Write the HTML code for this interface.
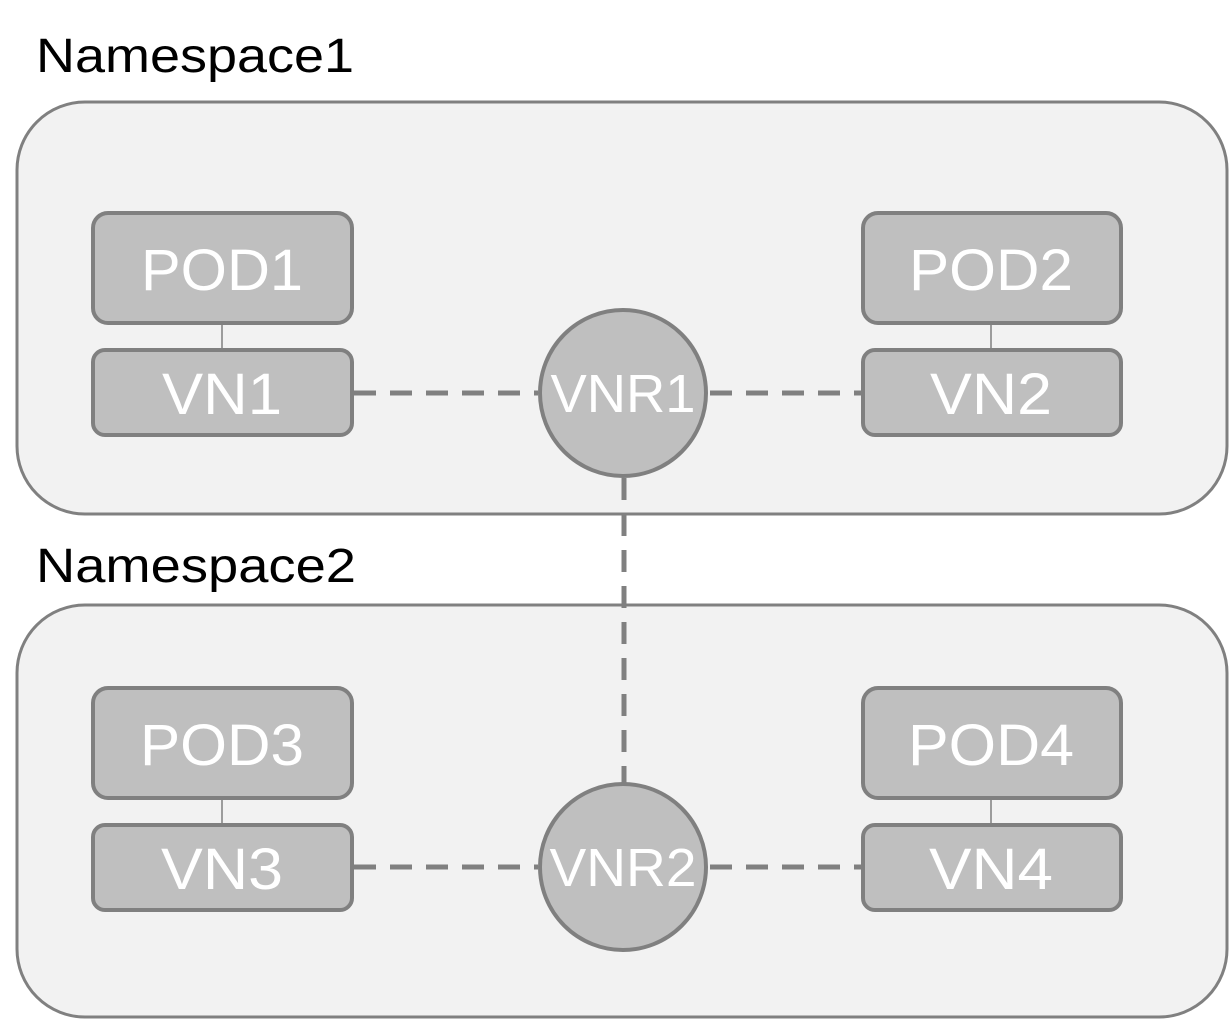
<!DOCTYPE html>
<html><head><style>
body{margin:0;background:#fff}
text{font-family:"Liberation Sans",sans-serif}
</style></head><body>
<svg width="1232" height="1022" viewBox="0 0 1232 1022" xmlns="http://www.w3.org/2000/svg">
<text x="36" y="72" font-size="48" fill="#000" textLength="318" lengthAdjust="spacingAndGlyphs">Namespace1</text>
<text x="36" y="582" font-size="48" fill="#000" textLength="320" lengthAdjust="spacingAndGlyphs">Namespace2</text>
<rect x="17" y="102" width="1210" height="412" rx="68" fill="#f2f2f2" stroke="#808080" stroke-width="3"/>
<rect x="17" y="605" width="1210" height="412" rx="68" fill="#f2f2f2" stroke="#808080" stroke-width="3"/>
<g stroke="#808080" stroke-width="5" stroke-dasharray="22,14" fill="none">
<line x1="354" y1="393" x2="538" y2="393"/>
<line x1="710" y1="393" x2="862" y2="393"/>
<line x1="354" y1="867" x2="538" y2="867"/>
<line x1="710" y1="867" x2="862" y2="867"/>
<line x1="624" y1="478" x2="624" y2="784"/>
</g>
<g stroke="#808080" stroke-width="1.5">
<line x1="222" y1="324" x2="222" y2="350"/>
<line x1="991" y1="324" x2="991" y2="350"/>
<line x1="222" y1="798" x2="222" y2="825"/>
<line x1="991" y1="798" x2="991" y2="825"/>
</g>
<g fill="#bfbfbf" stroke="#808080" stroke-width="4">
<rect x="93" y="213" width="259" height="110" rx="15"/>
<rect x="93" y="350" width="259" height="85" rx="12"/>
<rect x="863" y="213" width="258" height="110" rx="15"/>
<rect x="863" y="350" width="258" height="85" rx="12"/>
<rect x="93" y="688" width="259" height="110" rx="15"/>
<rect x="93" y="825" width="259" height="85" rx="12"/>
<rect x="863" y="688" width="258" height="110" rx="15"/>
<rect x="863" y="825" width="258" height="85" rx="12"/>
<circle cx="623" cy="393" r="83"/>
<circle cx="623" cy="867" r="83"/>
</g>
<g fill="#fff" text-anchor="middle" font-size="58">
<text x="222" y="290" textLength="162" lengthAdjust="spacingAndGlyphs">POD1</text>
<text x="222" y="414" textLength="120" lengthAdjust="spacingAndGlyphs">VN1</text>
<text x="991" y="290" textLength="164" lengthAdjust="spacingAndGlyphs">POD2</text>
<text x="991" y="414" textLength="122" lengthAdjust="spacingAndGlyphs">VN2</text>
<text x="222" y="765" textLength="164" lengthAdjust="spacingAndGlyphs">POD3</text>
<text x="222" y="889" textLength="122" lengthAdjust="spacingAndGlyphs">VN3</text>
<text x="991" y="765" textLength="166" lengthAdjust="spacingAndGlyphs">POD4</text>
<text x="991" y="889" textLength="124" lengthAdjust="spacingAndGlyphs">VN4</text>
<text x="623" y="412" font-size="54" textLength="145" lengthAdjust="spacingAndGlyphs">VNR1</text>
<text x="623" y="886" font-size="54" textLength="147" lengthAdjust="spacingAndGlyphs">VNR2</text>
</g>
</svg>
</body></html>
